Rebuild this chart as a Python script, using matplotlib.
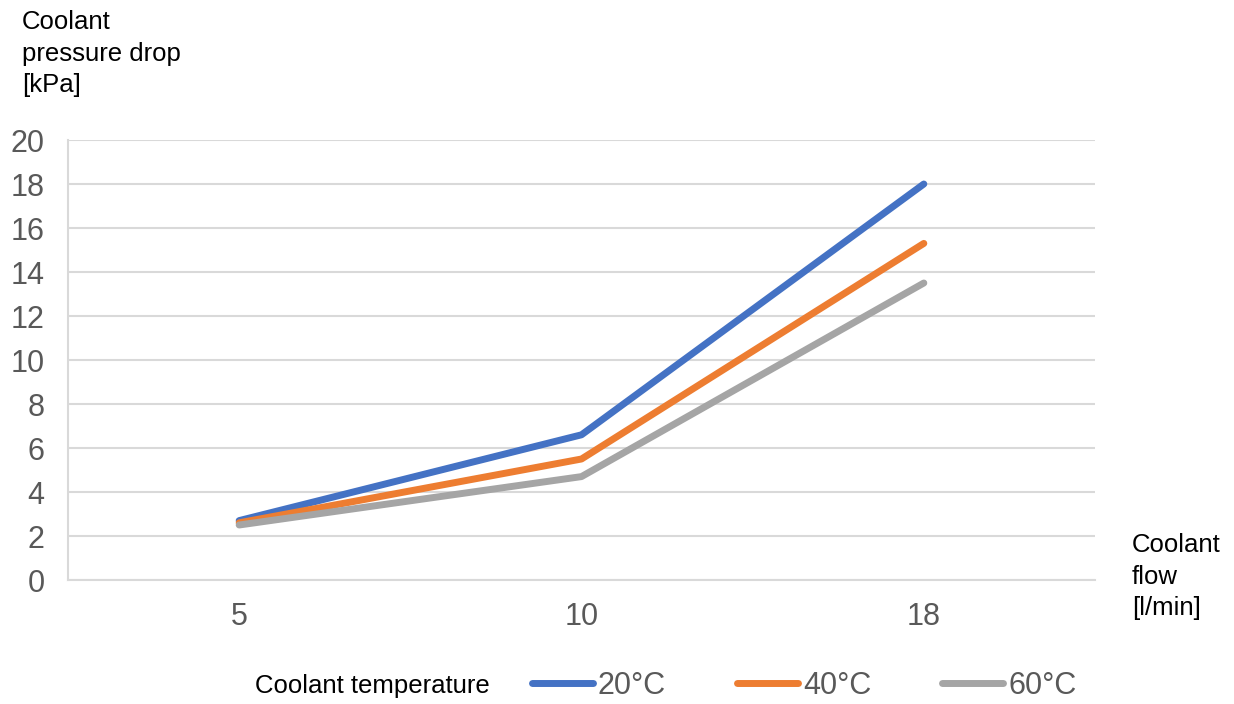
import matplotlib
matplotlib.use('Agg')
import matplotlib.pyplot as plt

# data
flows = ["5", "10", "18"]
temps = ["20°C", "40°C", "60°C"]
drop_20 = [2.7, 6.6, 18.0]
drop_40 = [2.6, 5.5, 15.3]
drop_60 = [2.5, 4.7, 13.5]
colors = ["#4472c4", "#ed7d31", "#a5a5a5"]

plt.rcParams['font.family'] = ['Liberation Sans', 'DejaVu Sans']

fig = plt.figure(figsize=(12.34, 7.04), dpi=100)
ax = fig.add_axes([68 / 1234, 1 - 580 / 704, (1095 - 68) / 1234, 440 / 704])

x = [i + 0.5 for i in range(len(flows))]
for vals, lab, c in zip([drop_20, drop_40, drop_60], temps, colors):
    ax.plot(x, vals, color=c, linewidth=5, solid_capstyle='round',
            solid_joinstyle='round', label=lab)

ax.set_xlim(0, 3)
ax.set_ylim(0, 20)
ax.set_xticks(x)
ax.set_xticklabels(flows)
ax.set_yticks(range(0, 21, 2))
ax.tick_params(length=0, labelsize=22, labelcolor='#595959')
ax.tick_params(axis='x', pad=16)
ax.tick_params(axis='y', pad=17)
ax.grid(axis='y', color='#d9d9d9', linewidth=1.5)
ax.set_axisbelow(True)
for s in ['top', 'right']:
    ax.spines[s].set_visible(False)
ax.spines['left'].set_color('#d9d9d9')
ax.spines['bottom'].set_color('#d9d9d9')
ax.spines['left'].set_linewidth(1.5)
ax.spines['bottom'].set_linewidth(1.5)

# axis titles
fig.text(22 / 1234, 1 - 10 / 704, "Coolant\npressure drop\n[kPa]", fontsize=18.5,
         ha='left', va='top', linespacing=1.4)
fig.text(1132 / 1234, 1 - 533 / 704, "Coolant\nflow\n[l/min]", fontsize=18.5,
         ha='left', va='top', linespacing=1.4)

# legend
fig.text(255 / 1234, 1 - 686 / 704, "Coolant temperature", fontsize=18.5,
         ha='left', va='center')
handles, labels = ax.get_legend_handles_labels()
fig.legend(handles, labels, ncol=3, frameon=False, fontsize=22,
           labelcolor='#595959', handlelength=2.0, handletextpad=0.15,
           columnspacing=2.33, loc='center left',
           bbox_to_anchor=(520 / 1234, 1 - 686 / 704), borderaxespad=0)

fig.savefig("out.png", dpi=100)
